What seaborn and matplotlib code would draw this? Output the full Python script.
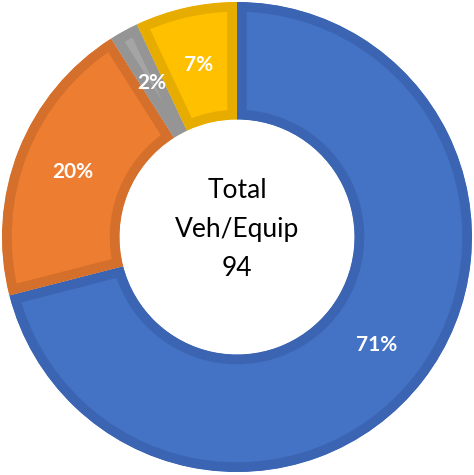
import matplotlib
matplotlib.use("Agg")
import numpy as np
import matplotlib.pyplot as plt
import seaborn as sns

# data
categories = ["A", "B", "C", "D"]
shares = [71, 20, 2, 7]
pct_labels = ["71%", "20%", "2%", "7%"]
fill_colors = ["#4472C4", "#ED7D31", "#A5A5A5", "#FFC000"]
edge_colors = ["#3B65B2", "#D4702C", "#959595", "#E6AC00"]
center_lines = ["Total", "Veh/Equip", "94"]

sns.set_theme(style="white")
plt.rcParams["font.family"] = ["Lato", "DejaVu Sans"]

fig = plt.figure(figsize=(4.74, 4.75), dpi=100)
ax = fig.add_axes([0, 0, 1, 1])

wedges, _ = ax.pie(shares, colors=fill_colors, startangle=90, counterclock=False,
                   radius=1.0, wedgeprops=dict(width=0.5, linewidth=14))
for w, ec in zip(wedges, edge_colors):
    w.set_edgecolor(ec)
    w.set_clip_path(w)  # keep only the inner half of the outline
    w.set_clip_on(True)

# percent labels in the middle of the ring
start = 90.0
total = sum(shares)
for v, lab in zip(shares, pct_labels):
    ang = start - v / total * 360 / 2
    r = 0.75
    ax.text(r * np.cos(np.radians(ang)), r * np.sin(np.radians(ang)), lab,
            ha="center", va="center", color="white", fontsize=15, fontweight="bold")
    start -= v / total * 360

ax.text(0, 0.034, "\n".join(center_lines), ha="center", va="center",
        fontsize=19, color="black", linespacing=1.7)

ax.set_xlim(-237 / 235, 237 / 235)
ax.set_ylim(-238 / 235, 237 / 235)
ax.set_aspect("equal")
ax.axis("off")

fig.savefig("out.png", dpi=100)
